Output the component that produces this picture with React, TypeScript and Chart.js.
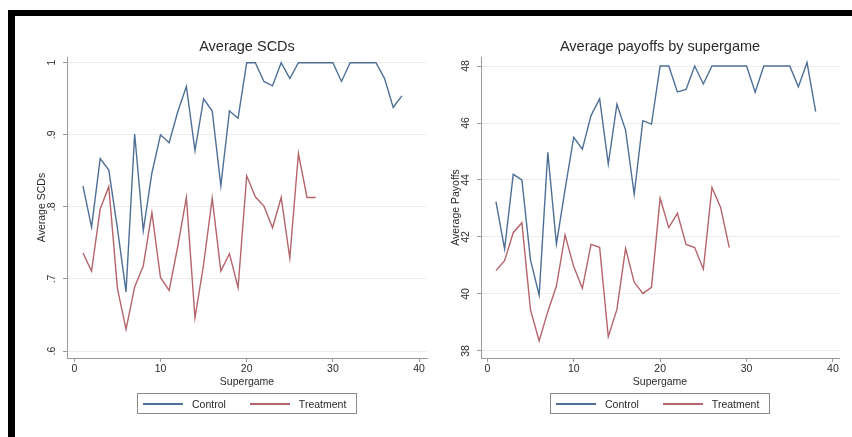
import React, { useEffect, useRef } from 'react';
import { Chart, registerables } from 'chart.js';

Chart.register(...registerables);

// ---------- data ----------
const supergamesControl = [1, 2, 3, 4, 5, 6, 7, 8, 9, 10, 11, 12, 13, 14, 15, 16, 17, 18, 19, 20, 21, 22, 23, 24, 25, 26, 27, 28, 29, 30, 31, 32, 33, 34, 35, 36, 37, 38];
const supergamesTreatment = [1, 2, 3, 4, 5, 6, 7, 8, 9, 10, 11, 12, 13, 14, 15, 16, 17, 18, 19, 20, 21, 22, 23, 24, 25, 26, 27, 28];

const scdControl = [0.829, 0.772, 0.867, 0.851, 0.77, 0.682, 0.901, 0.767, 0.847, 0.9, 0.889, 0.932, 0.967, 0.878, 0.95, 0.933, 0.829, 0.933, 0.923, 1, 1, 0.974, 0.968, 1, 0.978, 1, 1, 1, 1, 1, 0.974, 1, 1, 1, 1, 0.978, 0.938, 0.954];
const scdTreatment = [0.736, 0.711, 0.797, 0.828, 0.687, 0.63, 0.689, 0.718, 0.792, 0.702, 0.684, 0.745, 0.813, 0.646, 0.72, 0.812, 0.711, 0.735, 0.688, 0.843, 0.814, 0.801, 0.771, 0.813, 0.729, 0.874, 0.813, 0.813];

const payoffControl = [43.24, 41.58, 44.2, 44.0, 41.19, 39.96, 44.97, 41.75, 43.67, 45.5, 45.08, 46.26, 46.85, 44.56, 46.66, 45.75, 43.5, 46.08, 45.96, 48, 48, 47.09, 47.18, 48, 47.37, 48, 48, 48, 48, 48, 47.08, 48, 48, 48, 48, 47.27, 48.12, 46.4];
const payoffTreatment = [40.82, 41.17, 42.15, 42.5, 39.44, 38.35, 39.38, 40.28, 42.07, 40.96, 40.2, 41.74, 41.64, 38.5, 39.46, 41.6, 40.41, 40.02, 40.23, 43.36, 42.33, 42.83, 41.74, 41.63, 40.87, 43.74, 43.04, 41.63];

const seriesNames = ['Control', 'Treatment'];
const seriesColors = ['#4e7096', '#b5646a'];

const xTicks = [0, 10, 20, 30, 40];
const xTickLabels = ['0', '10', '20', '30', '40'];
const xTitle = 'Supergame';

const scdTicks = [0.6, 0.7, 0.8, 0.9, 1];
const scdTickLabels = ['.6', '.7', '.8', '.9', '1'];
const payoffTicks = [38, 40, 42, 44, 46, 48];
const payoffTickLabels = ['38', '40', '42', '44', '46', '48'];

const titles = ['Average SCDs', 'Average payoffs by supergame'];
const yTitles = ['Average SCDs', 'Average Payoffs'];

// ---------- styling ----------
const FONT = '"Liberation Sans", Arial, Helvetica, sans-serif';
const TEXT = '#2a2a2a';
const AXIS = '#9a9a9a';
const GRID = '#ececec';

const rotatedYTicks = {
  id: 'rotatedYTicks',
  afterDraw(chart: any, _args: any, opts: any) {
    const s = chart.scales.y;
    const ctx = chart.ctx;
    ctx.save();
    ctx.font = `10.5px ${FONT}`;
    ctx.fillStyle = TEXT;
    ctx.textAlign = 'center';
    ctx.textBaseline = 'middle';
    s.ticks.forEach((t: any) => {
      const i = opts.values.indexOf(t.value);
      if (i < 0) return;
      const y = s.getPixelForValue(t.value);
      ctx.save();
      ctx.translate(s.right - opts.gap, y);
      ctx.rotate(-Math.PI / 2);
      ctx.fillText(opts.labels[i], 0, 0);
      ctx.restore();
    });
    ctx.restore();
  },
};

type PanelProps = {
  left: number;
  width: number;
  title: string;
  yTitle: string;
  control: number[];
  treatment: number[];
  yTicks: number[];
  yLabels: string[];
  yMin: number;
  yMax: number;
  xMin: number;
  xMax: number;
  axisWidth: number;
  padRight: number;
  yTitlePad: number;
};

function Panel(p: PanelProps) {
  const ref = useRef<HTMLCanvasElement>(null);
  useEffect(() => {
    if (!ref.current) return;
    const chart = new Chart(ref.current, {
      type: 'line',
      data: {
        datasets: [
          {
            label: seriesNames[0],
            data: p.control.map((v, i) => ({ x: supergamesControl[i], y: v })),
            borderColor: seriesColors[0],
            backgroundColor: seriesColors[0],
            borderWidth: 1.4,
            pointRadius: 0,
            tension: 0,
            fill: false,
          },
          {
            label: seriesNames[1],
            data: p.treatment.map((v, i) => ({ x: supergamesTreatment[i], y: v })),
            borderColor: seriesColors[1],
            backgroundColor: seriesColors[1],
            borderWidth: 1.4,
            pointRadius: 0,
            tension: 0,
            fill: false,
          },
        ],
      },
      options: {
        animation: false,
        responsive: false,
        maintainAspectRatio: false,
        layout: { padding: { top: 38.6, right: p.padRight, bottom: 0, left: 0 } },
        plugins: {
          legend: { display: false },
          tooltip: { enabled: false },
          title: {
            display: true,
            text: p.title,
            fullSize: false,
            color: TEXT,
            font: { family: FONT, size: 14.5, weight: 'normal', lineHeight: 1.2 },
            padding: { top: 0, bottom: 1 },
          },
          rotatedYTicks: { values: p.yTicks, labels: p.yLabels, gap: 15 },
        } as any,
        scales: {
          x: {
            type: 'linear',
            min: p.xMin,
            max: p.xMax,
            afterBuildTicks: (s: any) => {
              s.ticks = xTicks.map((v) => ({ value: v }));
            },
            afterFit: (s: any) => {
              s.height = 79;
            },
            ticks: {
              color: TEXT,
              font: { family: FONT, size: 10.5 },
              padding: 1,
              maxRotation: 0,
              callback: (v: any) => {
                const i = xTicks.indexOf(Number(v));
                return i >= 0 ? xTickLabels[i] : '';
              },
            },
            grid: { display: true, drawOnChartArea: false, drawTicks: true, tickLength: 4, tickColor: AXIS, color: AXIS },
            border: { display: true, color: AXIS, width: 1 },
            title: {
              display: true,
              text: xTitle,
              color: TEXT,
              font: { family: FONT, size: 10.5, lineHeight: 1.2 },
              padding: { top: 0, bottom: 48.7 },
            },
          },
          y: {
            type: 'linear',
            min: p.yMin,
            max: p.yMax,
            afterBuildTicks: (s: any) => {
              s.ticks = p.yTicks.map((v) => ({ value: v }));
            },
            afterFit: (s: any) => {
              s.width = p.axisWidth;
            },
            ticks: { display: false },
            grid: { display: true, drawOnChartArea: true, drawTicks: true, tickLength: 4, tickColor: AXIS, color: GRID, lineWidth: 1 },
            border: { display: true, color: AXIS, width: 1 },
            title: {
              display: true,
              text: p.yTitle,
              color: TEXT,
              font: { family: FONT, size: 10.5, lineHeight: 1.2 },
              padding: { top: p.yTitlePad, bottom: 0 },
            },
          },
        },
      },
      plugins: [rotatedYTicks as any],
    });
    return () => chart.destroy();
  }, []);

  const plotLeft = p.axisWidth;
  const plotRight = p.width - p.padRight;
  const center = p.left + (plotLeft + plotRight) / 2;

  return (
    <>
      <canvas
        ref={ref}
        width={p.width}
        height={437}
        style={{ position: 'absolute', left: p.left, top: 0, width: p.width, height: 437, display: 'block' }}
      />
      <div
        style={{
          position: 'absolute',
          left: center - 110,
          top: 393,
          width: 220,
          height: 21,
          boxSizing: 'border-box',
          border: '1px solid #8a8a8a',
          display: 'flex',
          alignItems: 'center',
          paddingLeft: 5,
          fontFamily: FONT,
          fontSize: 10.5,
          color: TEXT,
          whiteSpace: 'nowrap',
        }}
      >
        {seriesNames.map((name, i) => (
          <div key={name} style={{ display: 'flex', alignItems: 'center', marginRight: i === 0 ? 24 : 0 }}>
            <div style={{ width: 40, height: 2, background: seriesColors[i] }} />
            <span style={{ marginLeft: 9 }}>{name}</span>
          </div>
        ))}
      </div>
    </>
  );
}

export default function App() {
  return (
    <div style={{ position: 'fixed', left: 0, top: 0, width: 852, height: 437, background: '#ffffff', overflow: 'hidden' }}>
      <Panel
        left={0}
        width={430}
        title={titles[0]}
        yTitle={yTitles[0]}
        control={scdControl}
        treatment={scdTreatment}
        yTicks={scdTicks}
        yLabels={scdTickLabels}
        yMin={0.5903}
        yMax={1.0079}
        xMin={-0.85}
        xMax={40.92}
        axisWidth={67}
        padRight={3}
        yTitlePad={36.2}
      />
      <Panel
        left={430}
        width={422}
        title={titles[1]}
        yTitle={yTitles[1]}
        control={payoffControl}
        treatment={payoffTreatment}
        yTicks={payoffTicks}
        yLabels={payoffTickLabels}
        yMin={37.754}
        yMax={48.316}
        xMin={-0.73}
        xMax={40.7}
        axisWidth={51}
        padRight={13}
        yTitlePad={20.2}
      />
      <div style={{ position: 'absolute', left: 8, top: 10, width: 844, height: 6, background: '#000' }} />
      <div style={{ position: 'absolute', left: 8, top: 10, width: 7, height: 427, background: '#000' }} />
    </div>
  );
}
